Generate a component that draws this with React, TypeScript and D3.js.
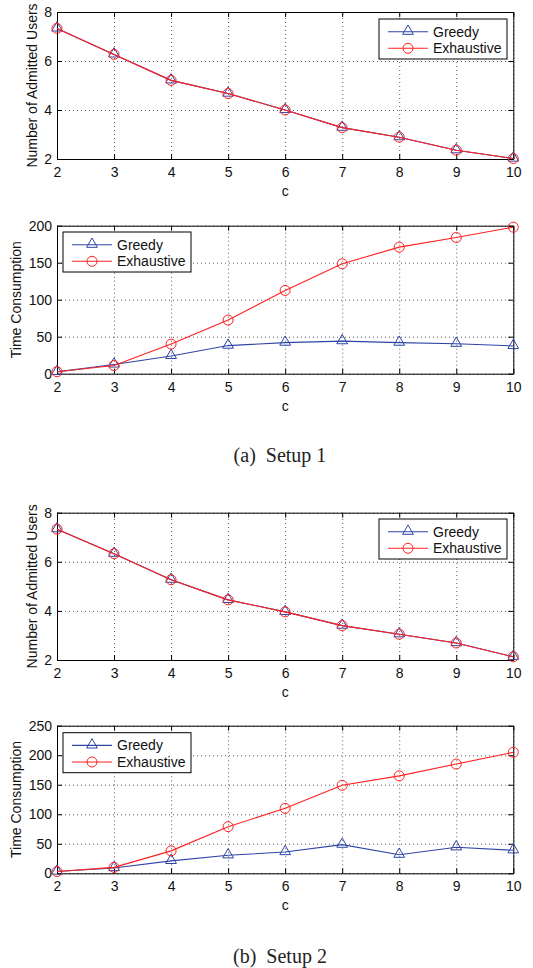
import React, { useEffect, useRef } from 'react';
import * as d3 from 'd3';

const cValues = [2, 3, 4, 5, 6, 7, 8, 9, 10];

const users1Greedy = [7.33, 6.27, 5.21, 4.67, 4.0, 3.28, 2.89, 2.36, 2.02];
const users1Exhaustive = [7.33, 6.27, 5.21, 4.67, 4.0, 3.28, 2.89, 2.36, 2.02];
const time1Greedy = [2.5, 12.5, 24, 38, 42, 44, 42, 40.5, 37.5];
const time1Exhaustive = [2.7, 11, 40, 72.5, 112.5, 148.5, 171, 184, 198];

const users2Greedy = [7.33, 6.33, 5.27, 4.45, 3.96, 3.4, 3.05, 2.69, 2.13];
const users2Exhaustive = [7.33, 6.33, 5.27, 4.45, 3.96, 3.4, 3.05, 2.69, 2.13];
const time2Greedy = [3, 9, 21, 30.5, 36, 48.5, 31.5, 44, 39];
const time2Exhaustive = [3, 10, 38, 79, 110, 149, 165, 185, 205];

const usersTicks = [2, 4, 6, 8];
const time1Ticks = [0, 50, 100, 150, 200];
const time2Ticks = [0, 50, 100, 150, 200, 250];

const seriesNames = ['Greedy', 'Exhaustive'];
const captions = ['(a)\u00a0\u00a0Setup 1', '(b)\u00a0\u00a0Setup 2'];

const BLUE = '#2f45a5';
const RED = '#ff2020';
const FONT = '"Liberation Sans", Arial, sans-serif';

const App = () => {
  const ref = useRef<SVGSVGElement>(null);

  useEffect(() => {
    const svg = d3.select(ref.current);
    svg.selectAll('*').remove();

    const left = 57;
    const right = 513.3;

    const panels = [
      { top: 12, bottom: 159, domain: [2, 8], ticks: usersTicks, label: 'Number of Admitted Users', labelX: 32, legendX: 379, legendY: 19, greedy: users1Greedy, exhaustive: users1Exhaustive },
      { top: 225.7, bottom: 373.7, domain: [0, 200], ticks: time1Ticks, label: 'Time Consumption', labelX: 16, legendX: 63, legendY: 232, greedy: time1Greedy, exhaustive: time1Exhaustive },
      { top: 512.7, bottom: 660, domain: [2, 8], ticks: usersTicks, label: 'Number of Admitted Users', labelX: 32, legendX: 379, legendY: 519, greedy: users2Greedy, exhaustive: users2Exhaustive },
      { top: 725.7, bottom: 873.3, domain: [0, 250], ticks: time2Ticks, label: 'Time Consumption', labelX: 16, legendX: 63, legendY: 732.7, greedy: time2Greedy, exhaustive: time2Exhaustive },
    ];

    const x = d3.scaleLinear().domain([2, 10]).range([left, right]);
    const tri = d3.symbol().type(d3.symbolTriangle).size(50);
    const fmt = d3.format('d');

    panels.forEach((p) => {
      const y = d3.scaleLinear().domain(p.domain).range([p.bottom, p.top]);
      const h = p.bottom - p.top;
      const w = right - left;
      const g = svg.append('g');

      // grid
      const grid = g.append('g').attr('class', 'grid');
      grid.append('g')
        .attr('transform', `translate(0,${p.bottom})`)
        .call(d3.axisBottom(x).tickValues(cValues).tickSize(-h).tickFormat(() => ''))
        .call((s) => s.select('.domain').remove());
      grid.append('g')
        .attr('transform', `translate(${left},0)`)
        .call(d3.axisLeft(y).tickValues(p.ticks).tickSize(-w).tickFormat(() => ''))
        .call((s) => s.select('.domain').remove());
      grid.selectAll('line').attr('stroke', '#333').attr('stroke-width', 0.8).attr('stroke-dasharray', '1,3');

      // axes with inward ticks
      const axes = [
        g.append('g').attr('transform', `translate(0,${p.bottom})`)
          .call(d3.axisBottom(x).tickValues(cValues).tickFormat(fmt).tickSizeInner(-5).tickSizeOuter(0).tickPadding(8)),
        g.append('g').attr('transform', `translate(0,${p.top})`)
          .call(d3.axisTop(x).tickValues(cValues).tickSizeInner(-5).tickSizeOuter(0).tickFormat(() => '')),
        g.append('g').attr('transform', `translate(${left},0)`)
          .call(d3.axisLeft(y).tickValues(p.ticks).tickFormat(fmt).tickSizeInner(-5).tickSizeOuter(0).tickPadding(5)),
        g.append('g').attr('transform', `translate(${right},0)`)
          .call(d3.axisRight(y).tickValues(p.ticks).tickSizeInner(-5).tickSizeOuter(0).tickFormat(() => '')),
      ];
      axes.forEach((a) => {
        a.select('.domain').attr('stroke', '#000').attr('stroke-width', 1);
        a.selectAll('line').attr('stroke', '#000');
        a.selectAll('text').attr('font-family', FONT).attr('font-size', 14).attr('fill', '#111');
      });

      // labels
      g.append('text')
        .attr('x', (left + right) / 2)
        .attr('y', p.bottom + 37)
        .attr('text-anchor', 'middle')
        .attr('font-family', FONT)
        .attr('font-size', 14)
        .attr('fill', '#111')
        .text('c');
      g.append('text')
        .attr('transform', `translate(${p.labelX + 5},${(p.top + p.bottom) / 2}) rotate(-90)`)
        .attr('text-anchor', 'middle')
        .attr('font-family', FONT)
        .attr('font-size', 14)
        .attr('fill', '#111')
        .text(p.label);

      // lines
      const line = d3.line<number>().x((_, i) => x(cValues[i])).y((d) => y(d));
      const series = [
        { values: p.greedy, color: BLUE, marker: 'tri' },
        { values: p.exhaustive, color: RED, marker: 'circle' },
      ];
      series.forEach((s) => {
        g.append('path').datum(s.values).attr('d', line).attr('fill', 'none').attr('stroke', s.color).attr('stroke-width', 1.1);
        if (s.marker === 'tri') {
          g.selectAll(null).data(s.values).enter().append('path')
            .attr('d', tri)
            .attr('transform', (d, i) => `translate(${x(cValues[i])},${y(d) - 0.5})`)
            .attr('fill', 'none').attr('stroke', s.color).attr('stroke-width', 1);
        } else {
          g.selectAll(null).data(s.values).enter().append('circle')
            .attr('cx', (d, i) => x(cValues[i])).attr('cy', (d) => y(d)).attr('r', 5)
            .attr('fill', 'none').attr('stroke', s.color).attr('stroke-width', 1);
        }
      });

      // legend
      const lg = g.append('g').attr('transform', `translate(${p.legendX},${p.legendY})`);
      lg.append('rect').attr('width', 128).attr('height', 40).attr('fill', '#fff').attr('stroke', '#000').attr('stroke-width', 1);
      seriesNames.forEach((name, i) => {
        const cy = i === 0 ? 12.7 : 29.3;
        const color = i === 0 ? BLUE : RED;
        lg.append('line').attr('x1', 9).attr('x2', 49).attr('y1', cy).attr('y2', cy).attr('stroke', color).attr('stroke-width', 1.1);
        if (i === 0) {
          lg.append('path').attr('d', tri).attr('transform', `translate(29,${cy - 0.5})`).attr('fill', 'none').attr('stroke', color);
        } else {
          lg.append('circle').attr('cx', 29).attr('cy', cy).attr('r', 5).attr('fill', 'none').attr('stroke', color);
        }
        lg.append('text').attr('x', 54).attr('y', cy + 5).attr('font-family', FONT).attr('font-size', 14).attr('fill', '#111').text(name);
      });
    });

    // captions
    [462, 963].forEach((cy, i) => {
      svg.append('text')
        .attr('x', 280)
        .attr('y', cy)
        .attr('text-anchor', 'middle')
        .attr('font-family', '"Liberation Serif", "Times New Roman", serif')
        .attr('font-size', 20)
        .attr('fill', '#222')
        .text(captions[i]);
    });
  }, []);

  return (
    <div style={{ position: 'absolute', left: 0, top: 0 }}>
      <svg ref={ref} width={533} height={968} style={{ display: 'block', background: '#fff' }}></svg>
    </div>
  );
};

export default App;
